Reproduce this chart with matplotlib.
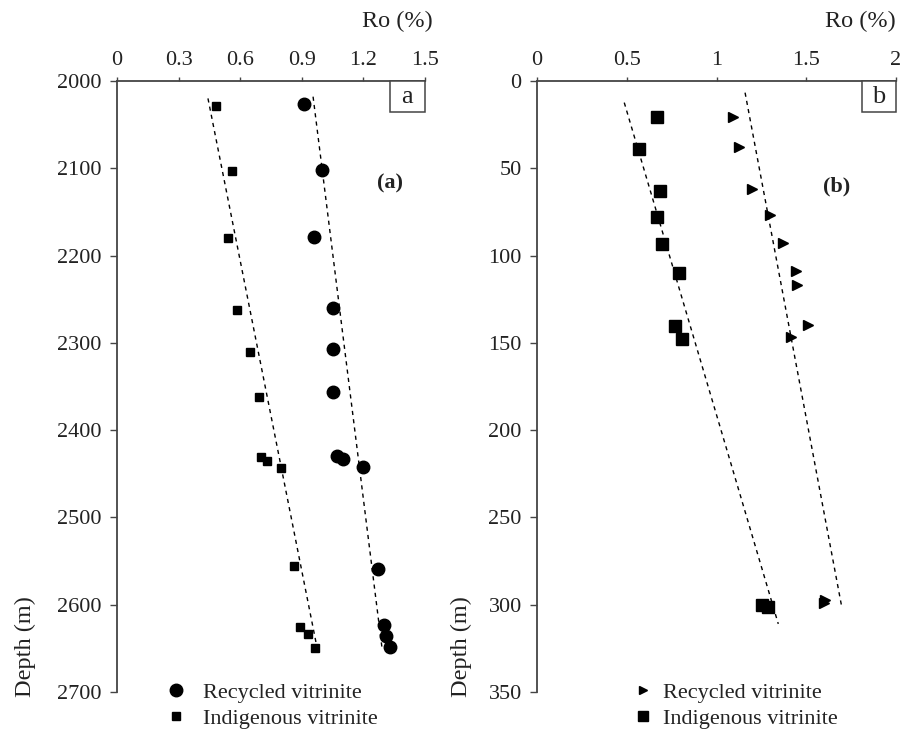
import matplotlib
matplotlib.use('Agg')
import matplotlib.pyplot as plt
from matplotlib.lines import Line2D
from matplotlib.patches import Rectangle

plt.rcParams['font.family'] = ['Liberation Serif', 'DejaVu Serif']

# panel (a): depth (m) vs Ro (%)
a_recycled_ro = [0.91, 1.00, 0.96, 1.05, 1.05, 1.05, 1.07, 1.10, 1.20, 1.27, 1.30, 1.31, 1.33]
a_recycled_depth = [2026, 2102, 2179, 2260, 2307, 2356, 2430, 2433, 2442, 2559, 2623, 2636, 2649]
a_indigenous_ro = [0.48, 0.56, 0.54, 0.585, 0.65, 0.69, 0.70, 0.73, 0.80, 0.86, 0.89, 0.93, 0.965]
a_indigenous_depth = [2029, 2103, 2180, 2262, 2311, 2362, 2431, 2435, 2443, 2556, 2625, 2634, 2650]
a_trend_recycled = ([0.955, 1.29], [2018, 2648])
a_trend_indigenous = ([0.443, 0.975], [2020, 2650])

# panel (b)
b_recycled_ro = [1.094, 1.127, 1.196, 1.298, 1.372, 1.441, 1.447, 1.511, 1.413, 1.604, 1.60]
b_recycled_depth = [20.8, 38, 62, 77, 93, 109, 116.8, 139.7, 146.8, 297.6, 299]
b_indigenous_ro = [0.670, 0.568, 0.685, 0.670, 0.695, 0.793, 0.769, 0.806, 1.252, 1.289]
b_indigenous_depth = [20.8, 39.1, 63, 77.7, 93.4, 109.8, 140.3, 148, 300, 301.4]
b_trend_recycled = ([1.159, 1.697], [6.7, 301])
b_trend_indigenous = ([0.486, 1.344], [12.4, 311])

a_xticks = [0, 0.3, 0.6, 0.9, 1.2, 1.5]
a_xticklabels = ['0', '0.3', '0.6', '0.9', '1.2', '1.5']
a_yticks = [2000, 2100, 2200, 2300, 2400, 2500, 2600, 2700]
b_xticks = [0, 0.5, 1, 1.5, 2]
b_xticklabels = ['0', '0.5', '1', '1.5', '2']
b_yticks = [0, 50, 100, 150, 200, 250, 300, 350]

txt = '#222222'
fs = 16
dash = (0, (3, 3))

fig = plt.figure(figsize=(9.03, 7.40), dpi=100)
ax1 = fig.add_axes([0.1296, 0.0649, 0.341, 0.8257])
ax2 = fig.add_axes([0.5947, 0.0649, 0.3976, 0.8257])


def style_axis(ax, xticks, xticklabels, yticks, xlim, ylim):
    ax.set_xlim(*xlim)
    ax.set_ylim(ylim[1], ylim[0])
    ax.xaxis.tick_top()
    ax.xaxis.set_label_position('top')
    ax.set_xticks(xticks)
    ax.set_xticklabels(xticklabels)
    ax.set_yticks(yticks)
    for s in ['right', 'bottom']:
        ax.spines[s].set_visible(False)
    for s in ['top', 'left']:
        ax.spines[s].set_color('#444444')
        ax.spines[s].set_linewidth(1.3)
    ax.tick_params(axis='x', direction='out', length=3, width=1, pad=5,
                   labelsize=fs, labelcolor=txt, color='#444444')
    ax.tick_params(axis='y', direction='out', length=5, width=1, pad=6,
                   labelsize=fs, labelcolor=txt, color='#444444')
    ax.set_xlabel('Ro (%)', fontsize=17.5, color=txt)
    ax.set_ylabel('Depth (m)', fontsize=17.5, color=txt)


def corner_box(ax, letter, x0):
    ax.add_patch(Rectangle((x0, 0.949), 1 - x0, 0.051, transform=ax.transAxes,
                           fc='white', ec='#444444', lw=1.1, clip_on=False, zorder=5))
    ax.text((x0 + 1) / 2, 0.9745, letter, transform=ax.transAxes, fontsize=19,
            ha='center', va='center', color=txt, zorder=6)


# panel a
style_axis(ax1, a_xticks, a_xticklabels, a_yticks, (0, 1.5), (2000, 2700))
ax1.plot(*a_trend_recycled, color='black', lw=1, linestyle=dash)
ax1.plot(*a_trend_indigenous, color='black', lw=1, linestyle=dash)
ax1.plot(a_recycled_ro, a_recycled_depth, 'o', color='black', markersize=9, clip_on=False)
ax1.plot(a_indigenous_ro, a_indigenous_depth, 's', color='black', markersize=5.5, clip_on=False)
ax1.text(1.33, 2117, '(a)', fontsize=16, fontweight='bold', ha='center', va='center', color=txt)
corner_box(ax1, 'a', 0.886)
ax1.xaxis.set_label_coords(0.912, 1.088)
ax1.yaxis.set_label_coords(-0.262, 0.074)
h1 = [Line2D([], [], marker='o', color='black', ls='none', markersize=9),
      Line2D([], [], marker='s', color='black', ls='none', markersize=6)]
ax1.legend(h1, ['Recycled vitrinite', 'Indigenous vitrinite'], loc='upper left',
           bbox_to_anchor=(0.12, 0.03), frameon=False, fontsize=fs, handlelength=1.2,
           handletextpad=0.6, labelspacing=0.25, borderaxespad=0, labelcolor=txt)

# panel b
style_axis(ax2, b_xticks, b_xticklabels, b_yticks, (0, 2), (0, 350))
ax2.plot(*b_trend_recycled, color='black', lw=1, linestyle=dash)
ax2.plot(*b_trend_indigenous, color='black', lw=1, linestyle=dash)
ax2.plot(b_recycled_ro, b_recycled_depth, '>', color='black', markersize=7, clip_on=False)
ax2.plot(b_indigenous_ro, b_indigenous_depth, 's', color='black', markersize=9, clip_on=False)
ax2.text(1.67, 60.5, '(b)', fontsize=16, fontweight='bold', ha='center', va='center', color=txt)
corner_box(ax2, 'b', 0.905)
ax2.xaxis.set_label_coords(0.90, 1.088)
ax2.yaxis.set_label_coords(-0.18, 0.074)
h2 = [Line2D([], [], marker='>', color='black', ls='none', markersize=6),
      Line2D([], [], marker='s', color='black', ls='none', markersize=7)]
ax2.legend(h2, ['Recycled vitrinite', 'Indigenous vitrinite'], loc='upper left',
           bbox_to_anchor=(0.24, 0.03), frameon=False, fontsize=fs, handlelength=1.0,
           handletextpad=0.4, labelspacing=0.25, borderaxespad=0, labelcolor=txt)

fig.savefig('out.png', dpi=100)
